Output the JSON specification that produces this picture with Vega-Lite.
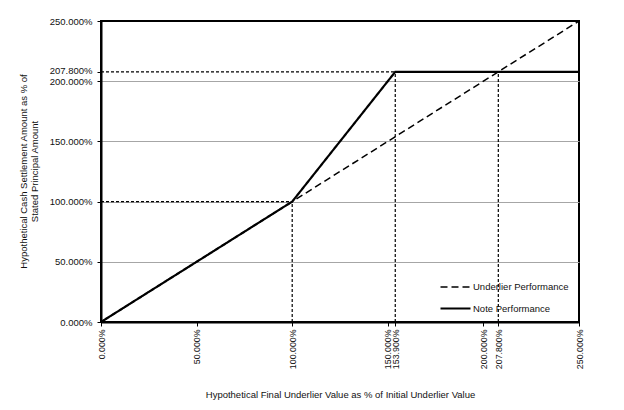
{
  "$schema": "https://vega.github.io/schema/vega-lite/v6.json",
  "width": 478,
  "height": 301,
  "autosize": {"type": "none"},
  "padding": {"left": 101, "top": 21, "right": 45, "bottom": 88},
  "background": "white",
  "config": {
    "font": "Liberation Sans",
    "view": {"stroke": "black", "strokeWidth": 2},
    "axis": {"labelFont": "Liberation Sans", "titleFont": "Liberation Sans", "labelFontSize": 9.5, "titleFontSize": 9.5, "titleFontWeight": "normal", "labelColor": "#111", "titleColor": "#111", "domainColor": "black", "domainWidth": 2, "tickColor": "black", "tickSize": 4, "labelOverlap": false, "labelBound": false, "labelFlush": false}
  },
  "datasets": {
    "lines": [
      {"series": "Underlier Performance", "x": 0, "y": 0},
      {"series": "Underlier Performance", "x": 250, "y": 250},
      {"series": "Note Performance", "x": 0, "y": 0},
      {"series": "Note Performance", "x": 100, "y": 100},
      {"series": "Note Performance", "x": 153.9, "y": 207.8},
      {"series": "Note Performance", "x": 250, "y": 207.8}
    ],
    "refs": [
      {"x": 0, "x2": 100, "y": 100, "y2": 100},
      {"x": 100, "x2": 100, "y": 0, "y2": 100},
      {"x": 0, "x2": 153.9, "y": 207.8, "y2": 207.8},
      {"x": 153.9, "x2": 153.9, "y": 0, "y2": 207.8},
      {"x": 207.8, "x2": 207.8, "y": 0, "y2": 207.8}
    ]
  },
  "layer": [
    {
      "data": {"name": "refs"},
      "mark": {"type": "rule", "color": "black", "strokeWidth": 1.2, "strokeDash": [3, 2]},
      "encoding": {
        "x": {"field": "x", "type": "quantitative", "scale": {"domain": [0, 250], "nice": false, "zero": false},
          "axis": {"values": [0, 50, 100, 150, 153.9, 200, 207.8, 250], "labelExpr": "format(datum.value, '.3f') + '%'", "labelAngle": 270, "labelPadding": 3, "labelFontSize": 8.8, "grid": false,
            "title": "Hypothetical Final Underlier Value as % of Initial Underlier Value", "titleY": 72, "titleBaseline": "middle"}},
        "x2": {"field": "x2"},
        "y": {"field": "y", "type": "quantitative", "scale": {"domain": [0, 250], "nice": false, "zero": false},
          "axis": {"values": [0, 50, 100, 150, 200, 207.8, 250], "labelExpr": "format(datum.value, '.3f') + '%'", "labelPadding": 5, "grid": true,
            "labelOffset": {"condition": {"test": "datum.value == 207.8", "value": -1.5}, "value": 0},
            "gridColor": {"condition": {"test": "datum.value == 0 || datum.value == 250 || datum.value == 207.8", "value": "transparent"}, "value": "#a6a6a6"},
            "title": ["Hypothetical Cash Settlement Amount as % of", "Stated Principal Amount"], "titleX": -78, "titleY": 150, "titleBaseline": "middle", "titleAngle": 270}},
        "y2": {"field": "y2"}
      }
    },
    {
      "data": {"name": "lines"},
      "mark": {"type": "line", "color": "black"},
      "encoding": {
        "x": {"field": "x", "type": "quantitative"},
        "y": {"field": "y", "type": "quantitative"},
        "detail": {"field": "series"},
        "strokeDash": {"field": "series", "type": "nominal", "scale": {"domain": ["Underlier Performance", "Note Performance"], "range": [[7, 4], [1, 0]]},
          "legend": {"title": null, "orient": "none", "legendX": 338, "legendY": 250, "symbolType": "stroke", "symbolSize": 900, "symbolStrokeColor": "black", "symbolStrokeWidth": 1.8, "labelFontSize": 9.5, "labelFont": "Liberation Sans", "labelColor": "#111", "labelOffset": 1, "rowPadding": -13}},
        "strokeWidth": {"field": "series", "type": "nominal", "scale": {"domain": ["Underlier Performance", "Note Performance"], "range": [1.5, 2.2]}, "legend": null}
      }
    }
  ]
}
